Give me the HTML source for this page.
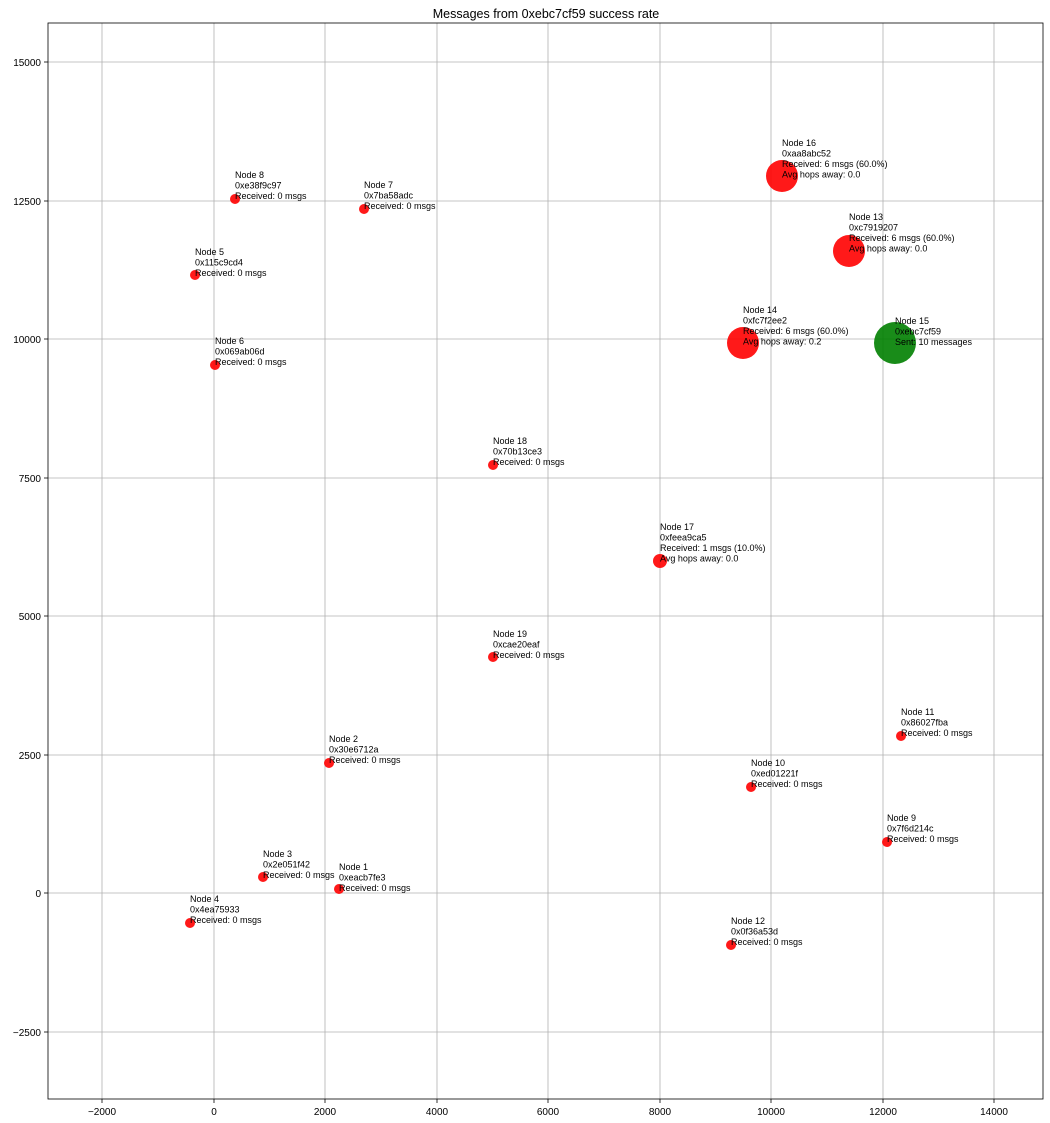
<!DOCTYPE html>
<html><head><meta charset="utf-8"><style>body{margin:0;background:#fff}svg{display:block}text{font-family:"Liberation Sans","DejaVu Sans",sans-serif}</style></head><body>
<svg width="1050" height="1123" xmlns="http://www.w3.org/2000/svg">
<rect width="1050" height="1123" fill="#fff"/>
<text x="546" y="18" font-size="12.5" text-anchor="middle">Messages from 0xebc7cf59 success rate</text>
<g stroke="#b0b0b0" stroke-width="0.8">
<line x1="102" y1="23" x2="102" y2="1099"/><line x1="214" y1="23" x2="214" y2="1099"/><line x1="325" y1="23" x2="325" y2="1099"/><line x1="437" y1="23" x2="437" y2="1099"/><line x1="548" y1="23" x2="548" y2="1099"/><line x1="660" y1="23" x2="660" y2="1099"/><line x1="771" y1="23" x2="771" y2="1099"/><line x1="883" y1="23" x2="883" y2="1099"/><line x1="994" y1="23" x2="994" y2="1099"/>
<line x1="48" y1="62" x2="1043" y2="62"/><line x1="48" y1="201" x2="1043" y2="201"/><line x1="48" y1="339" x2="1043" y2="339"/><line x1="48" y1="478" x2="1043" y2="478"/><line x1="48" y1="616" x2="1043" y2="616"/><line x1="48" y1="755" x2="1043" y2="755"/><line x1="48" y1="893" x2="1043" y2="893"/><line x1="48" y1="1032" x2="1043" y2="1032"/>
</g>
<rect x="48" y="23" width="995" height="1076" fill="none" stroke="#000" stroke-width="0.8"/>
<g stroke="#000" stroke-width="0.8">
<line x1="102" y1="1099" x2="102" y2="1103"/><line x1="214" y1="1099" x2="214" y2="1103"/><line x1="325" y1="1099" x2="325" y2="1103"/><line x1="437" y1="1099" x2="437" y2="1103"/><line x1="548" y1="1099" x2="548" y2="1103"/><line x1="660" y1="1099" x2="660" y2="1103"/><line x1="771" y1="1099" x2="771" y2="1103"/><line x1="883" y1="1099" x2="883" y2="1103"/><line x1="994" y1="1099" x2="994" y2="1103"/>
<line x1="44" y1="62" x2="48" y2="62"/><line x1="44" y1="201" x2="48" y2="201"/><line x1="44" y1="339" x2="48" y2="339"/><line x1="44" y1="478" x2="48" y2="478"/><line x1="44" y1="616" x2="48" y2="616"/><line x1="44" y1="755" x2="48" y2="755"/><line x1="44" y1="893" x2="48" y2="893"/><line x1="44" y1="1032" x2="48" y2="1032"/>
</g>
<g font-size="10" text-anchor="middle">
<text x="102" y="1115">−2000</text><text x="214" y="1115">0</text><text x="325" y="1115">2000</text><text x="437" y="1115">4000</text><text x="548" y="1115">6000</text><text x="660" y="1115">8000</text><text x="771" y="1115">10000</text><text x="883" y="1115">12000</text><text x="994" y="1115">14000</text>
</g>
<g font-size="10" text-anchor="end">
<text x="41" y="66">15000</text><text x="41" y="205">12500</text><text x="41" y="343">10000</text><text x="41" y="482">7500</text><text x="41" y="620">5000</text><text x="41" y="759">2500</text><text x="41" y="897">0</text><text x="41" y="1036">−2500</text>
</g>
<g fill="#ff0000" fill-opacity="0.9">
<circle cx="339" cy="889" r="5"/><circle cx="329" cy="763" r="5"/><circle cx="263" cy="877" r="5"/><circle cx="190" cy="923" r="5"/><circle cx="195" cy="275" r="5"/><circle cx="215" cy="365" r="5"/><circle cx="364" cy="209" r="5"/><circle cx="235" cy="199" r="5"/><circle cx="887" cy="842" r="5"/><circle cx="751" cy="787" r="5"/><circle cx="901" cy="736" r="5"/><circle cx="731" cy="945" r="5"/><circle cx="493" cy="465" r="5"/><circle cx="493" cy="657" r="5"/>
<circle cx="660" cy="561" r="7"/><circle cx="849" cy="251" r="16"/><circle cx="743" cy="343" r="16"/><circle cx="782" cy="176" r="16"/>
</g>
<circle cx="895" cy="343" r="21" fill="#007f00" fill-opacity="0.9"/>
<g font-size="9">
<text x="339" y="870">Node 1<tspan x="339" dy="10.5">0xeacb7fe3</tspan><tspan x="339" dy="10.5">Received: 0 msgs</tspan></text>
<text x="329" y="742">Node 2<tspan x="329" dy="10.5">0x30e6712a</tspan><tspan x="329" dy="10.5">Received: 0 msgs</tspan></text>
<text x="263" y="857">Node 3<tspan x="263" dy="10.5">0x2e051f42</tspan><tspan x="263" dy="10.5">Received: 0 msgs</tspan></text>
<text x="190" y="902">Node 4<tspan x="190" dy="10.5">0x4ea75933</tspan><tspan x="190" dy="10.5">Received: 0 msgs</tspan></text>
<text x="195" y="255">Node 5<tspan x="195" dy="10.5">0x115c9cd4</tspan><tspan x="195" dy="10.5">Received: 0 msgs</tspan></text>
<text x="215" y="344">Node 6<tspan x="215" dy="10.5">0x069ab06d</tspan><tspan x="215" dy="10.5">Received: 0 msgs</tspan></text>
<text x="364" y="188">Node 7<tspan x="364" dy="10.5">0x7ba58adc</tspan><tspan x="364" dy="10.5">Received: 0 msgs</tspan></text>
<text x="235" y="178">Node 8<tspan x="235" dy="10.5">0xe38f9c97</tspan><tspan x="235" dy="10.5">Received: 0 msgs</tspan></text>
<text x="887" y="821">Node 9<tspan x="887" dy="10.5">0x7f6d214c</tspan><tspan x="887" dy="10.5">Received: 0 msgs</tspan></text>
<text x="751" y="766">Node 10<tspan x="751" dy="10.5">0xed01221f</tspan><tspan x="751" dy="10.5">Received: 0 msgs</tspan></text>
<text x="901" y="715">Node 11<tspan x="901" dy="10.5">0x86027fba</tspan><tspan x="901" dy="10.5">Received: 0 msgs</tspan></text>
<text x="731" y="924">Node 12<tspan x="731" dy="10.5">0x0f36a53d</tspan><tspan x="731" dy="10.5">Received: 0 msgs</tspan></text>
<text x="849" y="220">Node 13<tspan x="849" dy="10.5">0xc7919207</tspan><tspan x="849" dy="10.5">Received: 6 msgs (60.0%)</tspan><tspan x="849" dy="10.5">Avg hops away: 0.0</tspan></text>
<text x="743" y="313">Node 14<tspan x="743" dy="10.5">0xfc7f2ee2</tspan><tspan x="743" dy="10.5">Received: 6 msgs (60.0%)</tspan><tspan x="743" dy="10.5">Avg hops away: 0.2</tspan></text>
<text x="895" y="324">Node 15<tspan x="895" dy="10.5">0xebc7cf59</tspan><tspan x="895" dy="10.5">Sent: 10 messages</tspan></text>
<text x="782" y="146">Node 16<tspan x="782" dy="10.5">0xaa8abc52</tspan><tspan x="782" dy="10.5">Received: 6 msgs (60.0%)</tspan><tspan x="782" dy="10.5">Avg hops away: 0.0</tspan></text>
<text x="660" y="530">Node 17<tspan x="660" dy="10.5">0xfeea9ca5</tspan><tspan x="660" dy="10.5">Received: 1 msgs (10.0%)</tspan><tspan x="660" dy="10.5">Avg hops away: 0.0</tspan></text>
<text x="493" y="444">Node 18<tspan x="493" dy="10.5">0x70b13ce3</tspan><tspan x="493" dy="10.5">Received: 0 msgs</tspan></text>
<text x="493" y="637">Node 19<tspan x="493" dy="10.5">0xcae20eaf</tspan><tspan x="493" dy="10.5">Received: 0 msgs</tspan></text>
</g>
</svg>
</body></html>
